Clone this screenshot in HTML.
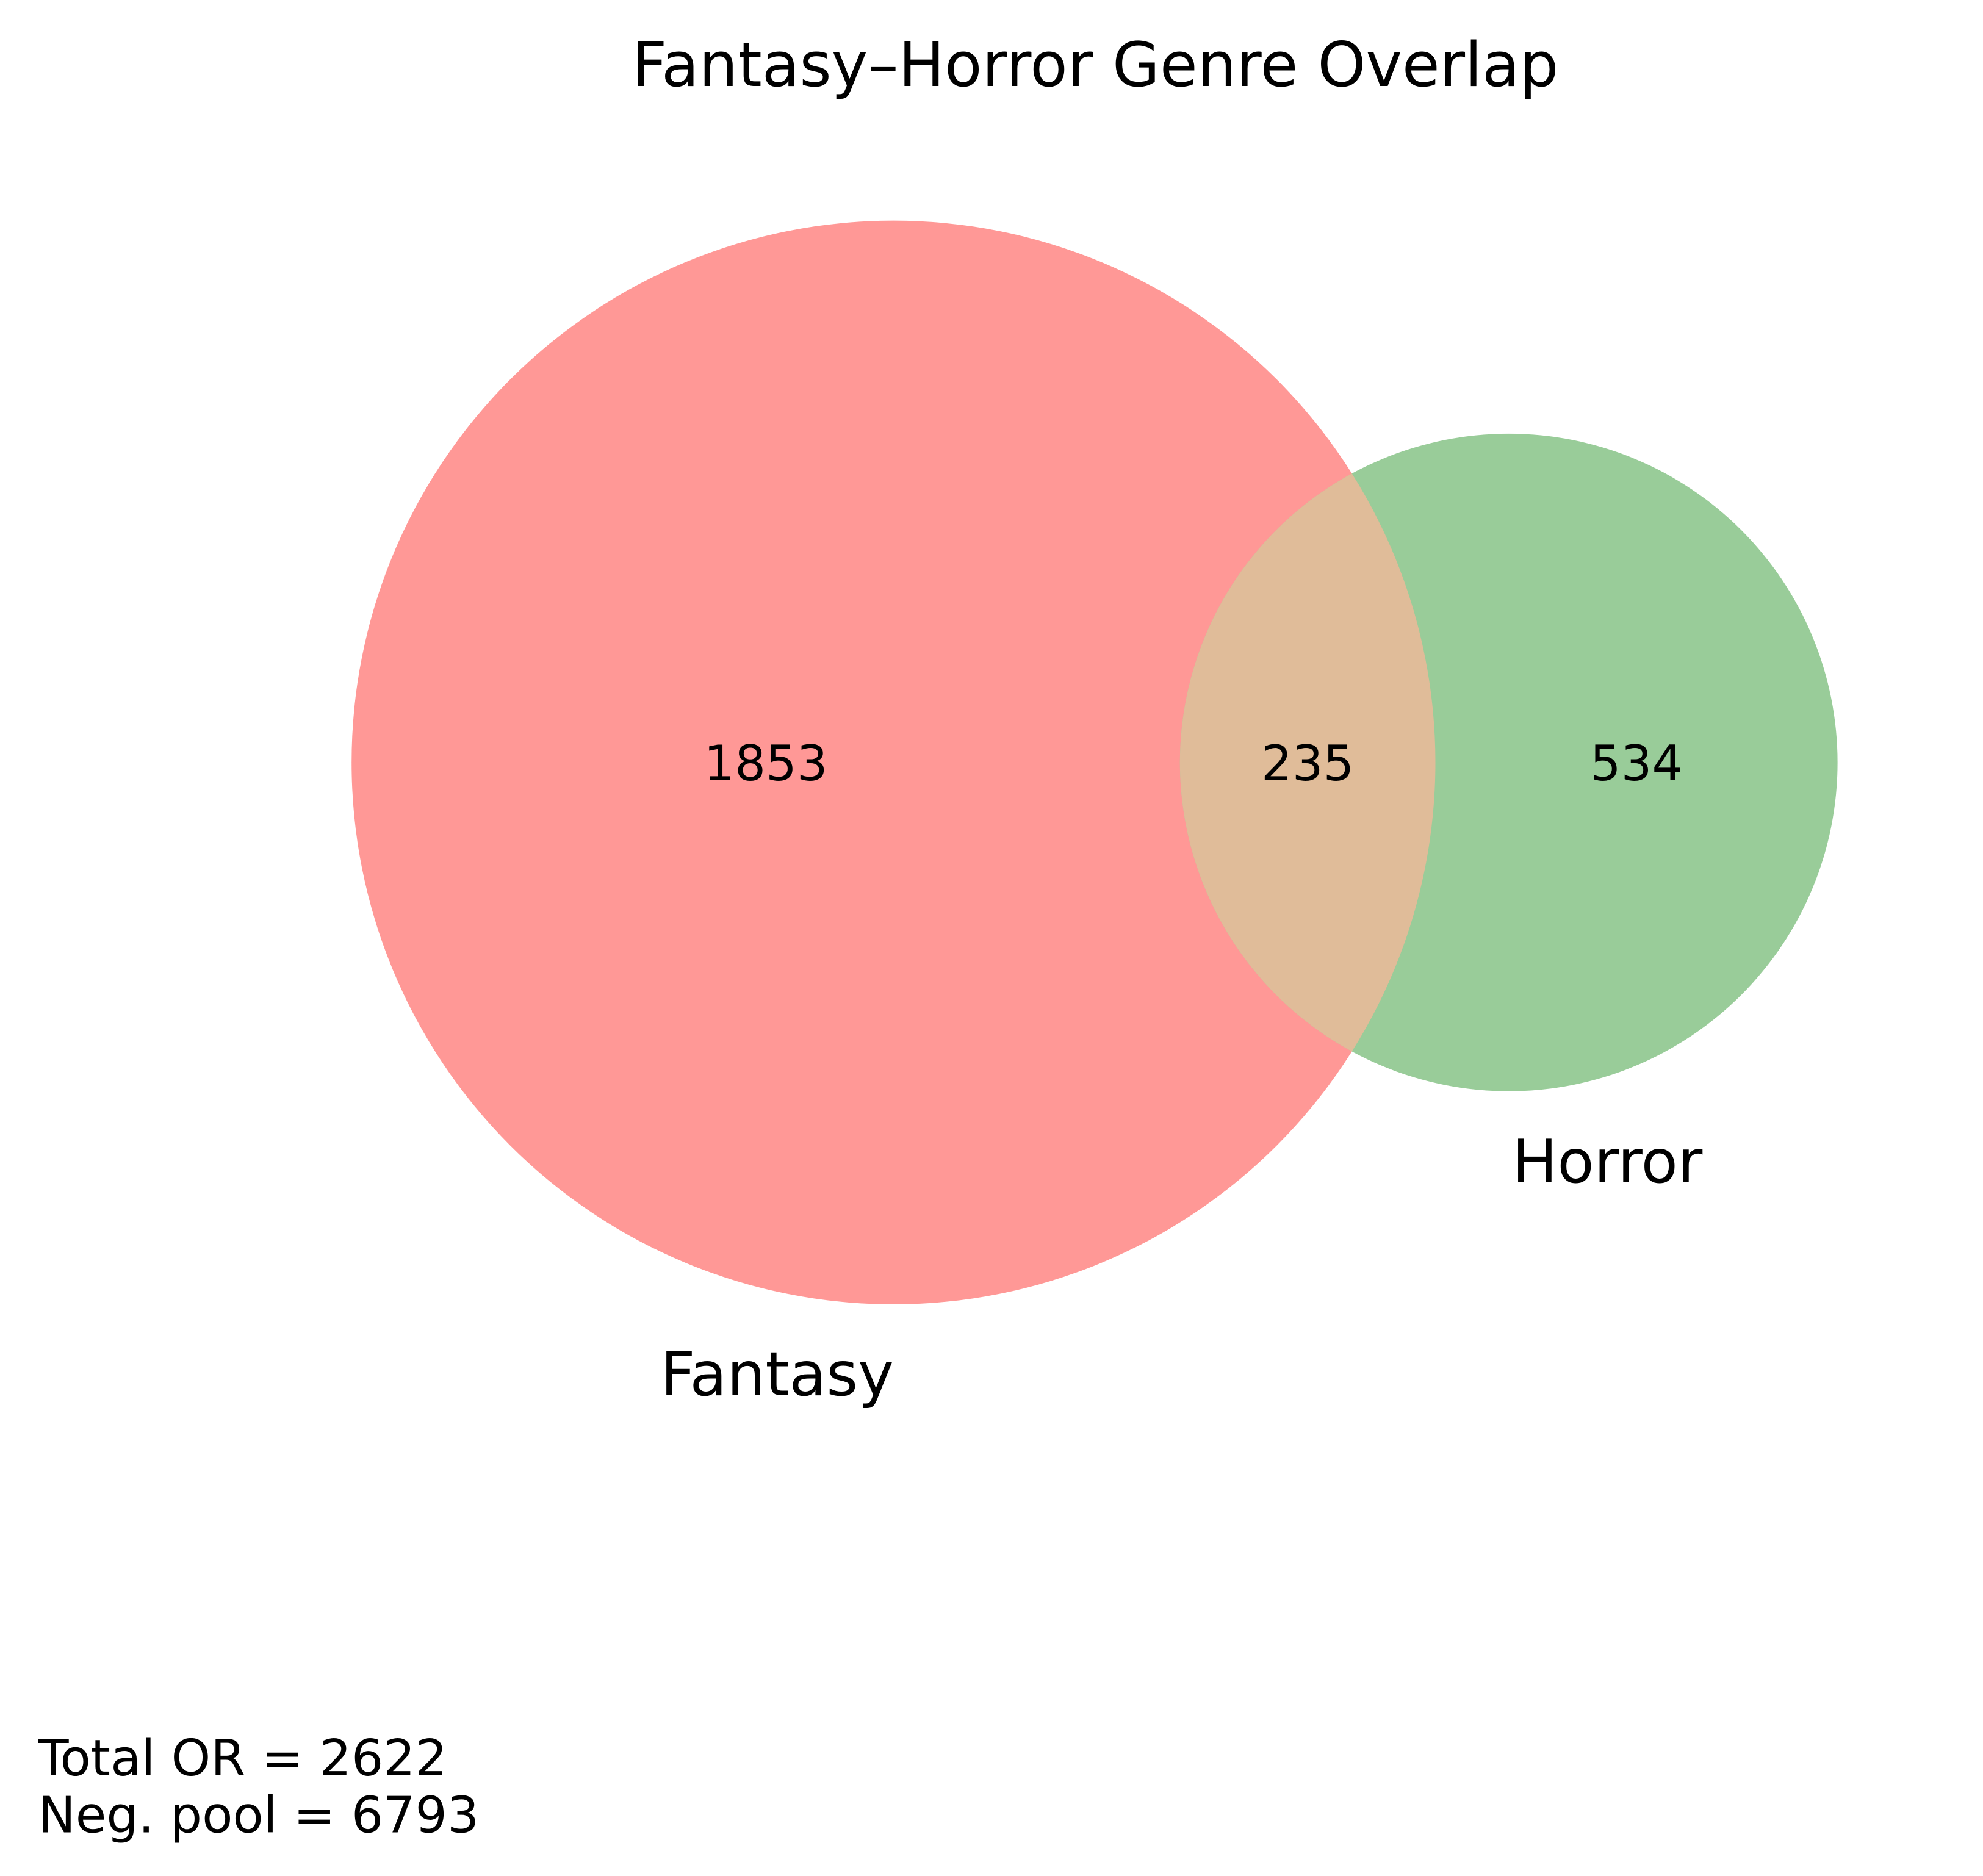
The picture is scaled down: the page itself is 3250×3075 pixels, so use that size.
<!DOCTYPE html>
<html><head><meta charset="utf-8"><style>html,body{margin:0;padding:0;background:#fff}svg{display:block}text{font-family:"DejaVu Sans","Liberation Sans",sans-serif;fill:#000}</style></head>
<body>
<svg id="chart" width="3250" height="3075" viewBox="0 0 1568 1483.6" xmlns="http://www.w3.org/2000/svg">
<rect width="1568" height="1484" fill="#fff"/>
<text x="866" y="68" font-size="48.5" text-anchor="middle">Fantasy–Horror Genre Overlap</text>
<g id="venn"></g>
<text x="30" y="1404" font-size="39.7">Total OR = 2622</text>
<text x="30" y="1449" font-size="39.7">Neg. pool = 6793</text>
</svg>
<script>
const setNames = ["Fantasy", "Horror"];
const regionCounts = [1853, 235, 534];
const circleCx = [706.5, 1193];
const circleCy = [603, 603];
const circleR = [428.5, 260];
const NS = "http://www.w3.org/2000/svg";
const g = document.getElementById("venn");
function mk(tag, attrs){const e=document.createElementNS(NS,tag);for(const k in attrs)e.setAttribute(k,attrs[k]);return e;}
const defs = mk("defs",{});
const cp = mk("clipPath",{id:"clipF"});
cp.appendChild(mk("circle",{cx:circleCx[0],cy:circleCy[0],r:circleR[0]}));
defs.appendChild(cp); g.appendChild(defs);
const c1 = mk("circle",{cx:circleCx[0],cy:circleCy[0],r:circleR[0],fill:"#ff9896"});


g.appendChild(c1);
const c2 = mk("circle",{cx:circleCx[1],cy:circleCy[1],r:circleR[1],fill:"#99cc99"});


g.appendChild(c2);
const ov = mk("circle",{cx:circleCx[1],cy:circleCy[1],r:circleR[1],fill:"#e0bc99","clip-path":"url(#clipF)"});


g.appendChild(ov);
const leftEdgeF = circleCx[0]-circleR[0], leftEdgeH = circleCx[1]-circleR[1];
const rightEdgeF = circleCx[0]+circleR[0], rightEdgeH = circleCx[1]+circleR[1];
const xs = [(leftEdgeF+leftEdgeH)/2, (leftEdgeH+rightEdgeF)/2, (rightEdgeF+rightEdgeH)/2];
const regionNames = ["fantasy-only-count","overlap-count","horror-only-count"];
for(let i=0;i<3;i++){
  const t = mk("text",{x:xs[i],y:circleCy[0]+14,"font-size":38.5,"text-anchor":"middle"});
  t.textContent = regionCounts[i];
  
  
  g.appendChild(t);
}
const l1 = mk("text",{x:circleCx[0]-92,y:circleCy[0]+circleR[0]+72,"font-size":48,"text-anchor":"middle"});
l1.textContent = setNames[0];


g.appendChild(l1);
const l2 = mk("text",{x:circleCx[1]+78,y:circleCy[1]+circleR[1]+72,"font-size":47.5,"text-anchor":"middle"});
l2.textContent = setNames[1];


g.appendChild(l2);
</script>
</body></html>
